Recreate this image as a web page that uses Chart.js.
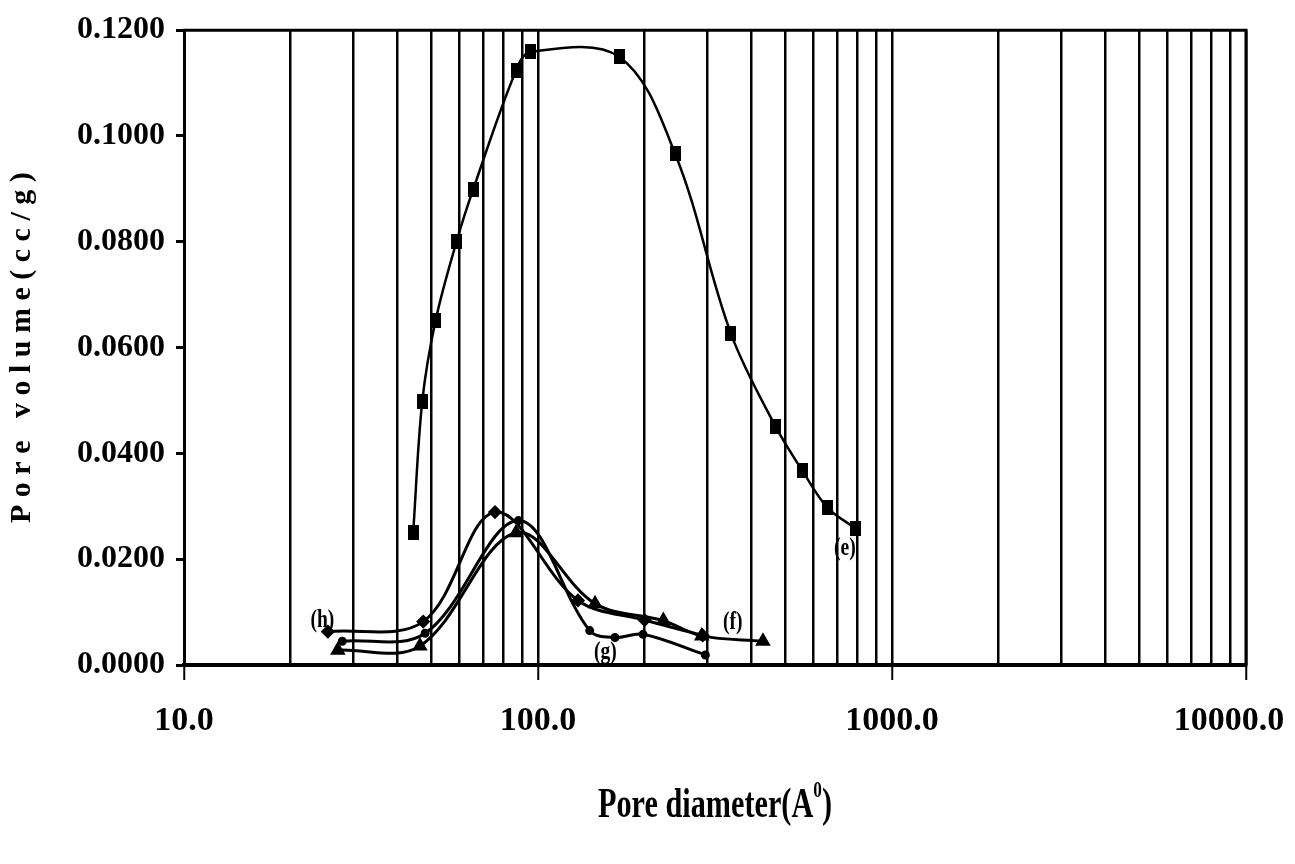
<!DOCTYPE html>
<html>
<head>
<meta charset="utf-8">
<script src="https://cdn.jsdelivr.net/npm/chart.js@4.4.1/dist/chart.umd.min.js"></script>
<style>
  html, body { margin: 0; padding: 0; background: #fff; }
  #wrap { width: 1295px; height: 864px; }
</style>
</head>
<body>
<div id="wrap"><canvas id="chart" width="1295" height="864"></canvas></div>
<script>
// pore size distributions, diameter in angstrom, volume in cc/g
var eDiameter = [44.4, 47.1, 51.4, 58.9, 65.6, 86.7, 95.3, 169.4, 243.8, 350.9, 468.8, 558.7, 656, 789];
var eVolume   = [0.0250, 0.0498, 0.0652, 0.0801, 0.0899, 0.1124, 0.1159, 0.1150, 0.0967, 0.0626, 0.0451, 0.0367, 0.0298, 0.0258];

var hDiameter = [25.5, 47.4, 75.6, 129.7, 200, 292];
var hVolume   = [0.0063, 0.0082, 0.0289, 0.0122, 0.0085, 0.0056];

var gDiameter = [28.0, 48.0, 88.0, 140, 165, 198, 297];
var gVolume   = [0.0045, 0.0060, 0.0273, 0.0065, 0.0052, 0.0058, 0.0019];

var fDiameter = [27.2, 46.4, 86.7, 144.9, 226, 290, 432];
var fVolume   = [0.0028, 0.0036, 0.0250, 0.0116, 0.0084, 0.0055, 0.0045];

// vertical grid lines of the log axis, labelled only at the decades
var xGrid = [10, 20, 30, 40, 50, 60, 70, 80, 90,
             100, 200, 300, 400, 500, 600, 700, 800, 900,
             1000, 2000, 3000, 4000, 5000, 6000, 7000, 8000, 9000,
             10000];
var yTicks = [0, 0.02, 0.04, 0.06, 0.08, 0.10, 0.12];

// curve tags and where they sit (diameter, volume)
var curveTags = ['(h)', '(g)', '(f)', '(e)'];
var tagDiameter = [24.6, 155, 355, 736];
var tagVolume = [0.0085, 0.0024, 0.0080, 0.0220];

var FONT = "'Liberation Serif', 'Times New Roman', serif";

function toPoints(xs, ys) {
  var pts = [];
  for (var i = 0; i < xs.length; i++) {
    pts.push({x: xs[i], y: ys[i]});
  }
  return pts;
}

// tall black block used for the (e) markers
function blockMarker() {
  var c = document.createElement('canvas');
  c.width = 11;
  c.height = 15;
  var cx = c.getContext('2d');
  cx.fillStyle = '#000';
  cx.fillRect(0, 0, 11, 15);
  return c;
}

function isDecade(v) {
  var l = Math.log10(v);
  return Math.abs(l - Math.round(l)) < 1e-6;
}

// closes the plot box on top and right
var framePlugin = {
  id: 'frame',
  beforeDatasetsDraw: function(chart) {
    var a = chart.chartArea;
    var ctx = chart.ctx;
    ctx.save();
    ctx.strokeStyle = '#000';
    ctx.lineWidth = 3;
    ctx.beginPath();
    ctx.moveTo(a.left - 1, a.top);
    ctx.lineTo(a.right, a.top);
    ctx.lineTo(a.right, a.bottom);
    ctx.stroke();
    ctx.restore();
  }
};

// curve tags and the x axis title with its superscript
var textPlugin = {
  id: 'texts',
  afterDraw: function(chart) {
    var ctx = chart.ctx;
    var xs = chart.scales.x;
    var ys = chart.scales.y;
    ctx.save();
    ctx.fillStyle = '#000';
    ctx.textAlign = 'center';
    ctx.textBaseline = 'middle';
    for (var i = 0; i < curveTags.length; i++) {
      var px = xs.getPixelForValue(tagDiameter[i]);
      var py = ys.getPixelForValue(tagVolume[i]);
      ctx.save();
      ctx.translate(px, py);
      ctx.scale(0.75, 1);
      ctx.font = 'bold 26px ' + FONT;
      ctx.fillText(curveTags[i], 0, 0);
      ctx.restore();
    }

    // "Pore diameter(A0)" with a raised 0
    var cx = (chart.chartArea.left + chart.chartArea.right) / 2;
    var base = 817;
    ctx.save();
    ctx.translate(cx, base);
    ctx.scale(0.72, 1);
    ctx.textAlign = 'left';
    ctx.textBaseline = 'alphabetic';
    var big = 'bold 42px ' + FONT;
    var small = 'bold 24px ' + FONT;
    ctx.font = big;
    var w1 = ctx.measureText('Pore diameter(A').width;
    var w3 = ctx.measureText(')').width;
    ctx.font = small;
    var w2 = ctx.measureText('0').width;
    var x0 = -(w1 + w2 + w3) / 2;
    ctx.font = big;
    ctx.fillText('Pore diameter(A', x0, 0);
    ctx.font = small;
    ctx.fillText('0', x0 + w1, -20);
    ctx.font = big;
    ctx.fillText(')', x0 + w1 + w2, 0);
    ctx.restore();
    ctx.restore();
  }
};

var lineBase = {
  borderColor: '#000',
  backgroundColor: '#000',
  fill: false,
  tension: 0.35,
  pointBorderColor: '#000',
  pointBackgroundColor: '#000'
};

var datasets = [
  Object.assign({}, lineBase, {
    label: '(e)',
    data: toPoints(eDiameter, eVolume),
    borderWidth: 2.5,
    pointStyle: blockMarker()
  }),
  Object.assign({}, lineBase, {
    label: '(h)',
    data: toPoints(hDiameter, hVolume),
    borderWidth: 3,
    pointStyle: 'rectRot',
    pointRadius: 5
  }),
  Object.assign({}, lineBase, {
    label: '(g)',
    data: toPoints(gDiameter, gVolume),
    borderWidth: 3,
    pointStyle: 'circle',
    pointRadius: 3
  }),
  Object.assign({}, lineBase, {
    label: '(f)',
    data: toPoints(fDiameter, fVolume),
    borderWidth: 3,
    pointStyle: 'triangle',
    pointRadius: 6
  })
];

new Chart(document.getElementById('chart'), {
  type: 'line',
  data: {datasets: datasets},
  options: {
    responsive: false,
    animation: false,
    layout: {padding: {top: 28, right: 49, left: 0, bottom: 0}},
    plugins: {
      legend: {display: false},
      tooltip: {enabled: false}
    },
    scales: {
      x: {
        type: 'logarithmic',
        min: 10,
        max: 10000,
        afterBuildTicks: function(s) {
          s.ticks = xGrid.map(function(v) { return {value: v}; });
        },
        afterFit: function(s) {
          s.height = 199;
          s.paddingLeft = 0;
          s.paddingRight = 0;
        },
        border: {display: true, color: '#000', width: 4},
        grid: {
          display: true,
          drawOnChartArea: true,
          drawTicks: true,
          tickLength: 15,
          color: '#000',
          lineWidth: 2.5,
          tickColor: function(c) {
            return c.tick && isDecade(c.tick.value) ? '#000' : 'rgba(0,0,0,0)';
          },
          tickWidth: 2
        },
        ticks: {
          autoSkip: false,
          maxRotation: 0,
          padding: 21,
          color: '#000',
          font: {family: FONT, size: 34, weight: 'bold'},
          callback: function(v) {
            if (!isDecade(v)) return '';
            // last label is nudged left so it stays on the page
            return v >= 10000 ? Number(v).toFixed(1) + '    ' : Number(v).toFixed(1);
          }
        }
      },
      y: {
        type: 'linear',
        min: 0,
        max: 0.12,
        afterFit: function(s) { s.width = 184; },
        afterBuildTicks: function(s) {
          s.ticks = yTicks.map(function(v) { return {value: v}; });
        },
        border: {display: true, color: '#000', width: 3},
        grid: {
          display: true,
          drawOnChartArea: false,
          drawTicks: true,
          tickLength: 8,
          tickColor: '#000',
          tickWidth: 3
        },
        ticks: {
          padding: 11,
          color: '#000',
          font: {family: FONT, size: 32, weight: 'bold'},
          callback: function(v) { return Number(v).toFixed(4); }
        },
        title: {
          display: true,
          text: 'P o r e   v o l u m e ( c c / g )',
          color: '#000',
          font: {family: FONT, size: 30, weight: 'bold'},
          padding: {top: 4, bottom: 0}
        }
      }
    }
  },
  plugins: [framePlugin, textPlugin]
});
</script>
</body>
</html>
